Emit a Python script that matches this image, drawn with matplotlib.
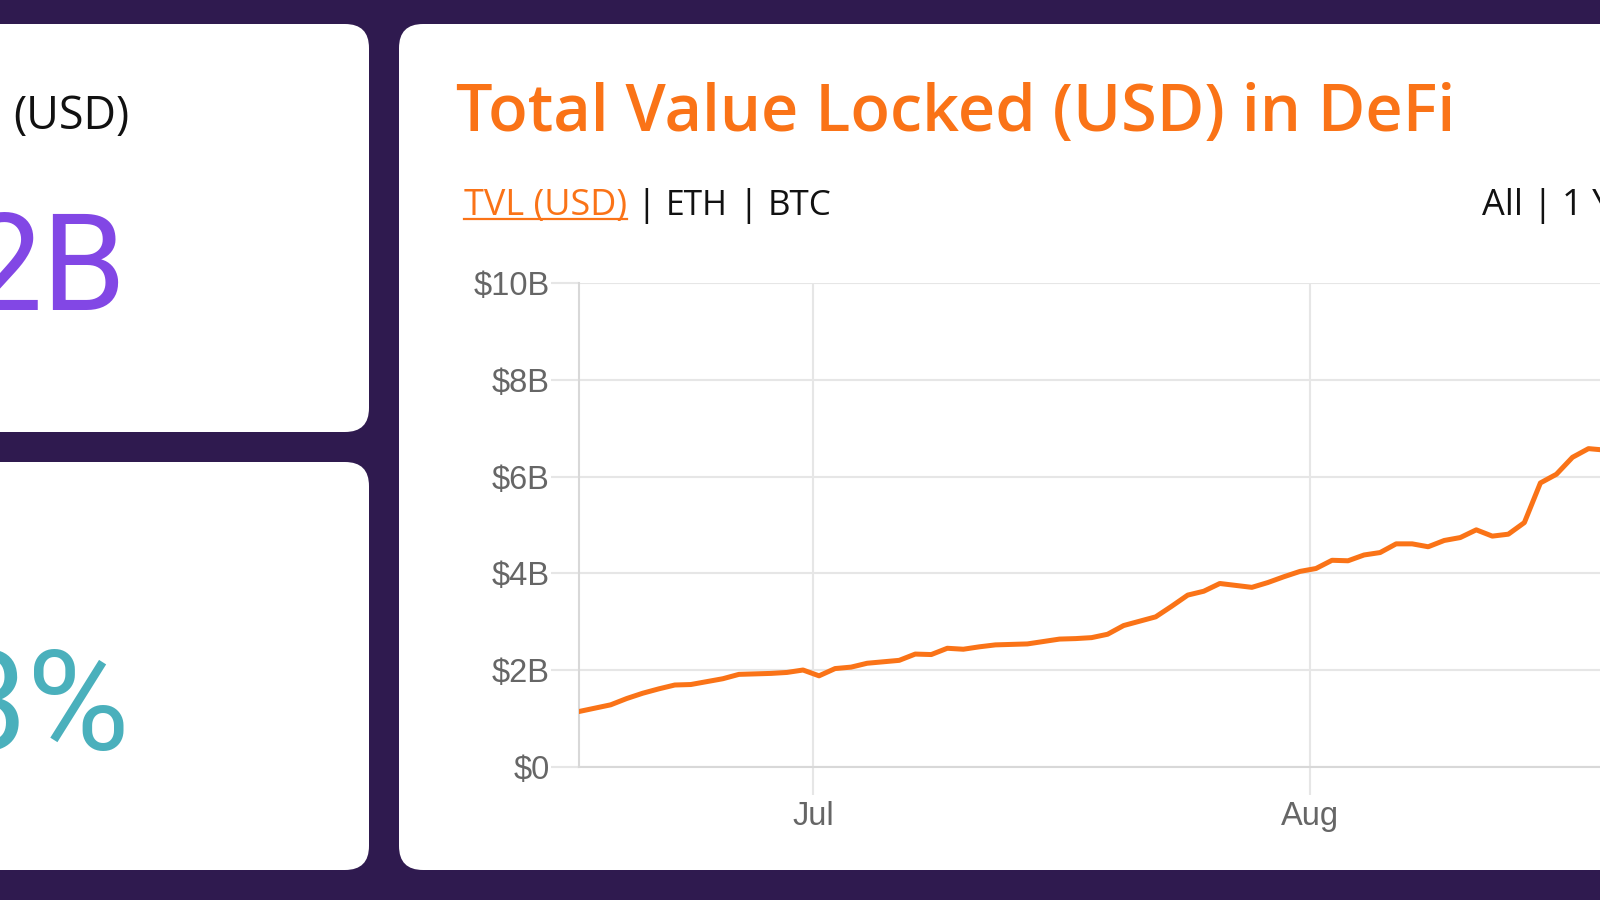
import numpy as np
import pandas as pd
import matplotlib
matplotlib.use('Agg')
import matplotlib.pyplot as plt
import matplotlib.dates as mdates
from matplotlib.patches import FancyBboxPatch
from matplotlib.transforms import IdentityTransform
from matplotlib.lines import Line2D

# ---------------- data ----------------
start_date = '2020-06-16 09:00'
tvl_billions = [1.14, 1.21, 1.28, 1.41, 1.52, 1.61, 1.69, 1.70, 1.76, 1.82,
                1.91, 1.92, 1.93, 1.95, 2.00, 1.88, 2.03, 2.06, 2.14, 2.17,
                2.20, 2.33, 2.32, 2.45, 2.43, 2.48, 2.52, 2.53, 2.54, 2.59,
                2.64, 2.65, 2.67, 2.74, 2.92, 3.01, 3.10, 3.32, 3.55, 3.63,
                3.79, 3.75, 3.71, 3.81, 3.93, 4.04, 4.10, 4.27, 4.26, 4.38,
                4.43, 4.61, 4.61, 4.55, 4.68, 4.74, 4.90, 4.77, 4.81, 5.05,
                5.87, 6.05, 6.40, 6.58, 6.55]
y_ticks = [0, 2, 4, 6, 8, 10]
y_tick_labels = ['$0', '$2B', '$4B', '$6B', '$8B', '$10B']
title = 'Total Value Locked (USD) in DeFi'
tab_labels = ['TVL (USD)', 'ETH', 'BTC']
range_labels = ['All', '1 Year']
card_top_caption = '(USD)'
card_top_value = '2B'
card_bottom_value = '3%'

# ---------------- style ----------------
BG = '#2f1a4f'
ORANGE = '#fa7317'
PURPLE = '#8247e5'
TEAL = '#4ab0bc'
GRID = '#e6e6e6'
AXIS = '#d8d8d8'
TICKTXT = '#666666'

plt.rcParams['font.family'] = ['Liberation Sans', 'DejaVu Sans']

W, H = 1600, 900
fig = plt.figure(figsize=(16, 9), dpi=100)
fig.patch.set_facecolor(BG)


def fx(x):
    return x / W


def fy(y):
    return 1 - y / H


def card(x0, y0, x1, y1, r=24):
    p = FancyBboxPatch((x0, H - y1), x1 - x0, y1 - y0,
                       boxstyle=f"round,pad=0,rounding_size={r}",
                       transform=IdentityTransform(), fc='white', ec='none',
                       zorder=-5)
    fig.add_artist(p)


card(-60, 24, 369, 432)
card(-60, 462, 369, 870)
card(399, 24, 1700, 870)

renderer = fig.canvas.get_renderer()


def fit_text(x, y, s, width, size0, **kw):
    t = fig.text(fx(x), fy(y), s, fontsize=size0, **kw)
    w = t.get_window_extent(renderer).width
    t.set_fontsize(size0 * width / w)
    return t


# left cards
fit_text(13, 129, card_top_caption, 116, 28, color='#111111', family='Open Sans',
         ha='left', va='baseline')
fig.text(fx(127), fy(310), card_top_value, fontsize=97, color=PURPLE,
         family='Roboto', ha='right', va='baseline')
fig.text(fx(130), fy(750), card_bottom_value, fontsize=101, color=TEAL,
         family='Roboto', ha='right', va='baseline')

# title
fit_text(456, 130.6, title, 998, 44, color=ORANGE, family='Open Sans',
         weight='semibold', ha='left', va='baseline')

# tabs
tab = fit_text(464, 215, tab_labels[0], 163, 24, color=ORANGE, family='Open Sans',
               ha='left', va='baseline')
fs = tab.get_fontsize()
fig.add_artist(Line2D([fx(464), fx(627)], [fy(219.5), fy(219.5)],
                      transform=fig.transFigure, color=ORANGE, lw=1.6))
fig.text(fx(646), fy(215), '|', fontsize=fs, color='#111111', family='Open Sans',
         ha='center', va='baseline')
fit_text(666, 215, tab_labels[1], 62, fs, color='#111111',
         family='Open Sans', ha='left', va='baseline')
fig.text(fx(748), fy(215), '|', fontsize=fs, color='#111111', family='Open Sans',
         ha='center', va='baseline')
fit_text(768, 215, tab_labels[2], 64, fs, color='#111111',
         family='Open Sans', ha='left', va='baseline')
fig.text(fx(1482), fy(215), range_labels[0], fontsize=fs, color='#111111',
         family='Open Sans', ha='left', va='baseline')
fig.text(fx(1542), fy(215), '|', fontsize=fs, color='#111111', family='Open Sans',
         ha='center', va='baseline')
fig.text(fx(1562), fy(215), range_labels[1], fontsize=fs, color='#111111',
         family='Open Sans', ha='left', va='baseline')

# ---------------- chart ----------------
x_left, x_right = 578.6, 1700.0
y_top, y_bot = 283.3, 766.7
px_per_day = 16.03
ax = fig.add_axes([fx(x_left), fy(y_bot), (x_right - x_left) / W, (y_bot - y_top) / H])
ax.set_facecolor('none')
ax.set_zorder(1)

dates = pd.date_range(start_date, periods=len(tvl_billions), freq='D').to_pydatetime()
ax.plot(dates, tvl_billions, color=ORANGE, lw=3.6, solid_joinstyle='round',
        solid_capstyle='round', zorder=3)

t0 = mdates.date2num(dates[0])
ax.set_xlim(t0, t0 + (x_right - x_left) / px_per_day)
ax.set_ylim(0, 10)
ax.set_yticks(y_ticks)
ax.set_yticklabels(y_tick_labels)
ax.xaxis.set_major_locator(mdates.MonthLocator())
ax.xaxis.set_major_formatter(mdates.DateFormatter('%b'))

ax.grid(True, color=GRID, lw=1.5)
ax.set_axisbelow(True)
ax.tick_params(axis='both', length=20, width=1.5, color=GRID,
               labelcolor=TICKTXT, labelsize=23.5)
ax.tick_params(axis='x', pad=5)
ax.tick_params(axis='y', pad=1)
for s in ['top', 'right']:
    ax.spines[s].set_visible(False)
for s in ['left', 'bottom']:
    ax.spines[s].set_color(AXIS)
    ax.spines[s].set_linewidth(1.5)

fig.savefig('out.png', dpi=100, facecolor=BG)
